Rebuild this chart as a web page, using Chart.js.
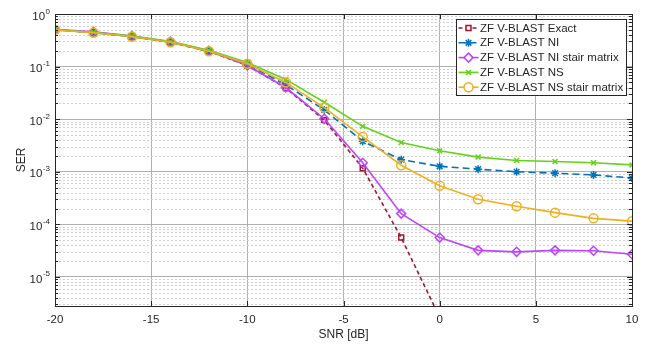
<!DOCTYPE html>
<html>
<head>
<meta charset="utf-8">
<script src="https://cdn.jsdelivr.net/npm/chart.js@4"></script>
<style>
  html, body { margin: 0; padding: 0; background: #fff; }
  #wrap { width: 649px; height: 345px; }
</style>
</head>
<body>
<div id="wrap"><canvas id="serChart" width="649" height="345"></canvas></div>
<script>
// SNR points (dB)
const snr = [-20, -18, -16, -14, -12, -10, -8, -6, -4, -2, 0, 2, 4, 6, 8, 10];

// SER curves
const serExact   = [0.5, 0.45, 0.37, 0.29, 0.195, 0.105, 0.039, 0.0096, 1.17e-3, 5.6e-5, 1.7e-6, null, null, null, null, null];
const serNI      = [0.5, 0.44, 0.37, 0.29, 0.195, 0.11, 0.045, 0.015, 3.8e-3, 1.7e-3, 1.27e-3, 1.12e-3, 1.0e-3, 9.4e-4, 8.7e-4, 7.6e-4];
const serNIstair = [0.51, 0.46, 0.38, 0.30, 0.2, 0.105, 0.04, 0.0102, 1.48e-3, 1.6e-4, 5.6e-5, 3.2e-5, 3.0e-5, 3.2e-5, 3.15e-5, 2.7e-5];
const serNS      = [0.5, 0.45, 0.38, 0.30, 0.205, 0.12, 0.057, 0.021, 7.3e-3, 3.6e-3, 2.5e-3, 1.9e-3, 1.64e-3, 1.57e-3, 1.48e-3, 1.35e-3];
const serNSstair = [0.5, 0.44, 0.37, 0.29, 0.195, 0.113, 0.05, 0.0166, 4.6e-3, 1.33e-3, 5.4e-4, 3.0e-4, 2.2e-4, 1.67e-4, 1.3e-4, 1.15e-4];

const seriesNames = ["ZF V-BLAST Exact", "ZF V-BLAST NI", "ZF V-BLAST NI stair matrix", "ZF V-BLAST NS", "ZF V-BLAST NS stair matrix"];

// axis ticks
const xTicks = [-20, -15, -10, -5, 0, 5, 10];
const yDecades = [0, -1, -2, -3, -4, -5];

const textColor = "#262626";
const fontFam = "'Liberation Sans', Arial, sans-serif";
Chart.defaults.font.family = fontFam;
Chart.defaults.color = textColor;

function makeSet(label, data, color, style, dash, order, radius) {
    return {
        label: label,
        data: snr.map((x, i) => ({ x: x, y: data[i] })),
        borderColor: color,
        backgroundColor: "rgba(0,0,0,0)",
        borderWidth: 1.6,
        borderDash: dash,
        pointStyle: style,
        pointRadius: radius,
        pointBorderWidth: 1.5,
        pointBorderColor: color,
        pointBackgroundColor: "rgba(0,0,0,0)",
        spanGaps: false,
        order: order,
        tension: 0
    };
}

// draws the matlab-like box, minor grid, y labels and legend
const axesPlugin = {
    id: "matlabAxes",
    beforeDatasetsDraw(chart) {
        const ctx = chart.ctx;
        const area = chart.chartArea;
        const ys = chart.scales.y;
        ctx.save();
        ctx.strokeStyle = "#cfcfcf";
        ctx.lineWidth = 1;
        ctx.setLineDash([2, 2]);
        for (let k = -6; k < 0; k++) {
            for (let m = 2; m <= 9; m++) {
                const v = m * Math.pow(10, k);
                if (v < ys.min || v > ys.max) continue;
                const py = Math.round(ys.getPixelForValue(v)) + 0.5;
                ctx.beginPath();
                ctx.moveTo(area.left, py);
                ctx.lineTo(area.right, py);
                ctx.stroke();
            }
        }
        ctx.restore();
    },
    afterDatasetsDraw(chart) {
        const ctx = chart.ctx;
        const area = chart.chartArea;
        const xs = chart.scales.x;
        const ys = chart.scales.y;
        ctx.save();
        ctx.setLineDash([]);
        ctx.strokeStyle = textColor;
        ctx.lineWidth = 1;

        // ticks pointing inward
        ctx.beginPath();
        xTicks.forEach(v => {
            const px = Math.round(xs.getPixelForValue(v)) + 0.5;
            ctx.moveTo(px, area.bottom); ctx.lineTo(px, area.bottom - 5);
            ctx.moveTo(px, area.top); ctx.lineTo(px, area.top + 5);
        });
        for (let k = -6; k <= 0; k++) {
            for (let m = 1; m <= 9; m++) {
                const v = m * Math.pow(10, k);
                if (v < ys.min || v > ys.max) continue;
                const len = m === 1 ? 5 : 3;
                const py = Math.round(ys.getPixelForValue(v)) + 0.5;
                ctx.moveTo(area.left, py); ctx.lineTo(area.left + len, py);
                ctx.moveTo(area.right, py); ctx.lineTo(area.right - len, py);
            }
        }
        ctx.stroke();

        // box
        ctx.strokeRect(Math.round(area.left) + 0.5, Math.round(area.top) + 0.5,
            Math.round(area.right - area.left), Math.round(area.bottom - area.top));

        // y tick labels 10^k
        ctx.fillStyle = textColor;
        yDecades.forEach(k => {
            const py = ys.getPixelForValue(Math.pow(10, k));
            const exp = k === 0 ? "0" : "-" + Math.abs(k);
            ctx.font = "8px " + fontFam;
            ctx.textAlign = "right";
            ctx.textBaseline = "alphabetic";
            const ew = ctx.measureText(exp).width;
            ctx.fillText(exp, 50, py - 0.5);
            ctx.font = "11.5px " + fontFam;
            ctx.textBaseline = "middle";
            ctx.fillText("10", 50 - ew - 0.5, py + 2.5);
        });

        // legend box
        const lx = 456.5, ly = 19.5, lw = 170, lh = 76;
        ctx.fillStyle = "#ffffff";
        ctx.fillRect(lx, ly, lw, lh);
        ctx.strokeStyle = textColor;
        ctx.strokeRect(lx, ly, lw, lh);
        chart.data.datasets.forEach((ds, i) => {
            const ry = 28 + i * 14.8;
            ctx.strokeStyle = ds.borderColor;
            ctx.lineWidth = ds.borderWidth;
            ctx.setLineDash(ds.borderDash || []);
            ctx.beginPath();
            ctx.moveTo(lx + 2, ry);
            ctx.lineTo(lx + 22, ry);
            ctx.stroke();
            ctx.setLineDash([]);
            ctx.fillStyle = "#ffffff";
            ctx.lineWidth = ds.pointBorderWidth;
            Chart.helpers.drawPoint(ctx, {
                pointStyle: ds.pointStyle,
                radius: ds.pointRadius,
                borderWidth: ds.pointBorderWidth,
                rotation: 0
            }, lx + 12, ry);
            ctx.fillStyle = textColor;
            ctx.font = "11.5px " + fontFam;
            ctx.textAlign = "left";
            ctx.textBaseline = "middle";
            ctx.fillText(ds.label, lx + 23.5, ry + 0.5);
        });
        ctx.restore();
    }
};

const ctx = document.getElementById("serChart").getContext("2d");

new Chart(ctx, {
    type: "line",
    data: {
        datasets: [
            makeSet(seriesNames[0], serExact, "#A2142F", "rect", [4, 3], 4, 3.5),
            makeSet(seriesNames[1], serNI, "#0072BD", "star", [7, 4], 3, 4),
            makeSet(seriesNames[2], serNIstair, "#BC45FA", "rectRot", [], 2, 4.5),
            makeSet(seriesNames[3], serNS, "#64D21A", "crossRot", [], 1, 3.5),
            makeSet(seriesNames[4], serNSstair, "#EDB120", "circle", [], 0, 4.5)
        ]
    },
    options: {
        responsive: false,
        animation: false,
        devicePixelRatio: 1,
        layout: { padding: { top: 14, right: 17, left: 0, bottom: 0 } },
        plugins: {
            legend: { display: false },
            tooltip: { enabled: false }
        },
        scales: {
            x: {
                type: "linear",
                min: -20,
                max: 10,
                afterBuildTicks: s => { s.ticks = xTicks.map(v => ({ value: v })); },
                afterFit: s => { s.height = 39; },
                ticks: {
                    padding: 7,
                    color: textColor,
                    font: { size: 11.5 },
                    maxRotation: 0
                },
                grid: { color: "#b0b0b0", lineWidth: 1, drawTicks: false },
                border: { display: false },
                title: {
                    display: true,
                    text: "SNR [dB]",
                    color: textColor,
                    font: { size: 12 },
                    padding: { top: 0, bottom: 3 }
                }
            },
            y: {
                type: "logarithmic",
                min: 2.8e-6,
                max: 1,
                afterBuildTicks: s => { s.ticks = yDecades.map(k => ({ value: Math.pow(10, k), major: true })); },
                afterFit: s => { s.width = 55; },
                ticks: { display: false },
                grid: { color: "#b0b0b0", lineWidth: 1, drawTicks: false },
                border: { display: false },
                title: {
                    display: true,
                    text: "SER",
                    color: textColor,
                    font: { size: 12 },
                    padding: { top: 14, bottom: 0 }
                }
            }
        }
    },
    plugins: [axesPlugin]
});
</script>
</body>
</html>
